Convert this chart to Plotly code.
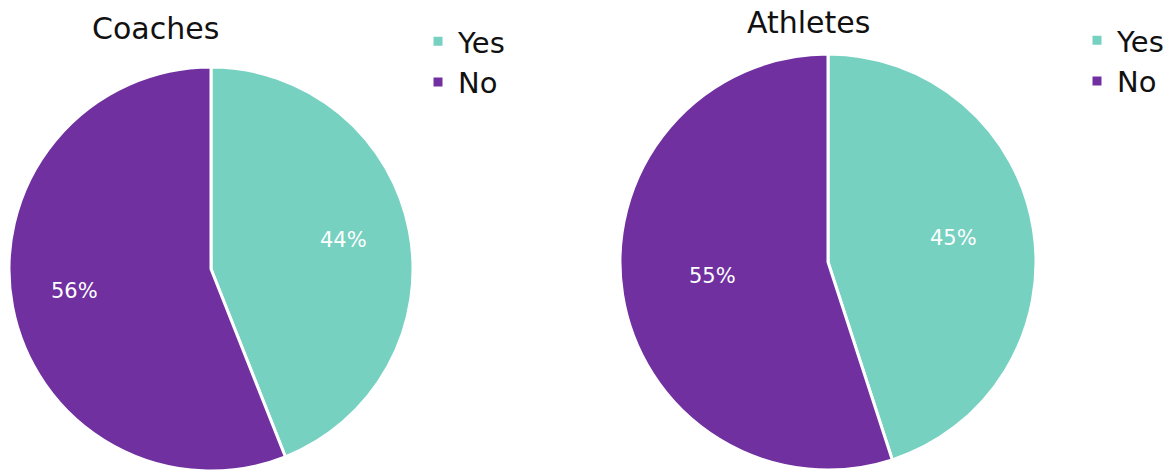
import math
import plotly.graph_objects as go

# Survey answers (percent)
answers = ["Yes", "No"]
coaches = [44, 56]
athletes = [45, 55]
titles = ["Coaches", "Athletes"]
colors = ["#76D1C1", "#7030A0"]

W, H = 1175, 471
FONT = "DejaVu Sans"

def px_x(v):
    return v / W

def px_y(v):
    return 1 - v / H

# pie geometry in pixels: centre x, centre y, radius, label distance per slice (fraction of radius)
pies = [
    dict(values=coaches, title=titles[0], cx=211, cy=269, r=202, lab=[0.67, 0.69],
         title_xy=(155, 29), legend="legend", group="coaches"),
    dict(values=athletes, title=titles[1], cx=828, cy=262, r=208, lab=[0.61, 0.56],
         title_xy=(808, 23), legend="legend2", group="athletes"),
]

fig = go.Figure()

for p in pies:
    fig.add_trace(go.Pie(
        labels=answers, values=p["values"], name=p["title"],
        sort=False, direction="clockwise", rotation=0,
        marker=dict(colors=colors, line=dict(color="white", width=3)),
        textinfo="none",
        hoverinfo="label+percent",
        domain=dict(x=[px_x(p["cx"] - p["r"]), px_x(p["cx"] + p["r"])],
                    y=[px_y(p["cy"] + p["r"]), px_y(p["cy"] - p["r"])]),
        legend=p["legend"], legendgroup=p["group"],
    ))

    # percentage labels placed at the middle angle of each slice
    total = sum(p["values"])
    start = 0.0
    for v, frac in zip(p["values"], p["lab"]):
        mid = (start + v / 2) / total * 2 * math.pi
        start += v
        d = frac * p["r"]
        lx = p["cx"] + d * math.sin(mid)
        ly = p["cy"] - d * math.cos(mid) - 4
        fig.add_annotation(text=f"{v}%", x=px_x(lx), y=px_y(ly),
                           xref="paper", yref="paper", xanchor="center", yanchor="middle",
                           showarrow=False, font=dict(size=21, color="white", family=FONT))

    tx, ty = p["title_xy"]
    fig.add_annotation(text=p["title"], x=px_x(tx), y=px_y(ty), xref="paper", yref="paper",
                       xanchor="center", yanchor="middle",
                       showarrow=False, font=dict(size=30, color="#111", family=FONT))

legend_font = dict(size=29, color="#111", family=FONT)
fig.update_layout(
    width=W, height=H,
    margin=dict(l=0, r=0, t=0, b=0),
    paper_bgcolor="white",
    plot_bgcolor="white",
    font=dict(family=FONT),
    legend=dict(x=px_x(418), y=px_y(16), xanchor="left", yanchor="top",
                font=legend_font, bgcolor="rgba(0,0,0,0)", itemclick=False),
    legend2=dict(x=px_x(1077), y=px_y(15), xanchor="left", yanchor="top",
                 font=legend_font, bgcolor="rgba(0,0,0,0)", itemclick=False),
)

fig.write_html("out.html")
